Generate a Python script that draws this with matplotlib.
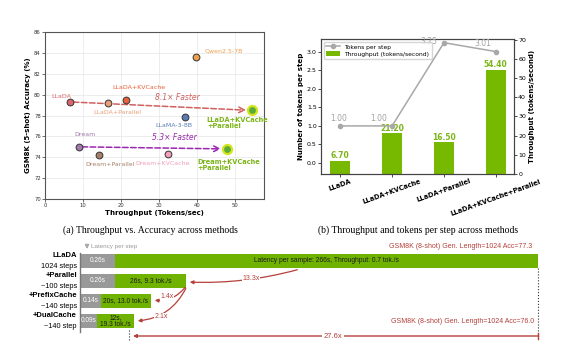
import numpy as np
import matplotlib
matplotlib.use("Agg")
import matplotlib.pyplot as plt

# ---- panel (a) data : throughput vs accuracy
names_a = ["LLaDA", "LLaDA+Parallel", "LLaDA+KVCache", "Qwen2.5-7B", "LLaMA-3-8B",
           "Dream", "Dream+Parallel", "Dream+KVCache",
           "LLaDA+KVCache\n+Parallel", "Dream+KVCache\n+Parallel"]
thr_a = [6.7, 16.5, 21.2, 39.8, 36.8, 9.0, 14.1, 32.3, 54.4, 47.8]
acc_a = [79.3, 79.2, 79.5, 83.6, 77.9, 75.0, 74.2, 74.3, 78.5, 74.8]
colors_a = ["#d9666f", "#e8a07a", "#e9603a", "#f0a04b", "#5a7bb5",
            "#a07aa8", "#a8806a", "#f0a0b8", "#5aab3a", "#5aab3a"]
speedups = ["8.1× Faster", "5.3× Faster"]

# ---- panel (b) data
methods_b = ["LLaDA", "LLaDA+KVCache", "LLaDA+Parallel", "LLaDA+KVCache+Parallel"]
tokens_per_step = [1.00, 1.00, 3.25, 3.01]
throughput_b = [6.70, 21.20, 16.50, 54.40]

# ---- panel (c) data
methods_c = ["LLaDA", "+Parallel", "+PrefixCache", "+DualCache"]
steps_c = ["1024 steps", "~100 steps", "~140 steps", "~140 step"]
step_lat = ["0.26s", "0.26s", "0.14s", "0.09s"]
sample_txt = ["Latency per sample: 266s, Throughput: 0.7 tok./s", "26s, 9.3 tok./s",
              "20s, 13.0 tok./s", "12s,\n19.3 tok./s"]
gray_len = [35, 35, 21, 17]
green_len = [423, 71, 50, 37]
ratios = ["13.3x", "1.4x", "2.1x", "27.6x"]

W, H = 562, 356
fig = plt.figure(figsize=(W/100, H/100), dpi=100)

def box(l, t, r, b):
    return [l/W, 1-b/H, (r-l)/W, (b-t)/H]

# ================= (a)
ax1 = fig.add_axes(box(45, 32, 264, 199))
ax1.grid(True, color="#e6e6e6", lw=0.5)
ax1.set_axisbelow(True)
for i in range(8):
    ax1.scatter(thr_a[i], acc_a[i], s=24, color=colors_a[i], edgecolor="#333333", lw=0.7, zorder=3)
for i in (8, 9):
    ax1.scatter(thr_a[i], acc_a[i], s=42, color=colors_a[i], edgecolor="#d4e41c", lw=1.6, zorder=3)

ax1.annotate("", xy=(thr_a[8]-0.8, acc_a[8]), xytext=(thr_a[0], acc_a[0]),
             arrowprops=dict(arrowstyle="->", color="#d0605e", lw=1.1, ls="--"), zorder=2)
ax1.annotate("", xy=(thr_a[9]-0.8, acc_a[9]), xytext=(thr_a[5], acc_a[5]),
             arrowprops=dict(arrowstyle="->", color="#9b27b0", lw=1.1, ls="--"), zorder=2)
ax1.text(34.7, 79.7, speedups[0], color="#d0605e", style="italic", fontsize=5.5, ha="center", va="center")
ax1.text(34.0, 75.9, speedups[1], color="#9b27b0", style="italic", fontsize=5.5, ha="center", va="center")

offs = [(-9, 5), (10, -10), (13, 12), (27, 6), (-11, -9), (6, 12), (11, -9), (-5, -9)]
for i in range(8):
    ax1.annotate(names_a[i], (thr_a[i], acc_a[i]), xytext=offs[i], textcoords="offset pixels",
                 color=colors_a[i], fontsize=4.5, ha="center", va="center")
ax1.annotate(names_a[8], (thr_a[8], acc_a[8]), xytext=(-45, -13), textcoords="offset pixels",
             color="#7cb518", fontsize=4.8, fontweight="bold", ha="left", va="center", linespacing=1.0)
ax1.annotate(names_a[9], (thr_a[9], acc_a[9]), xytext=(-29, -16), textcoords="offset pixels",
             color="#7cb518", fontsize=4.8, fontweight="bold", ha="left", va="center", linespacing=1.0)

ax1.set_xlim(0, 57.6)
ax1.set_ylim(70, 86)
ax1.set_xticks(range(0, 60, 10))
ax1.set_yticks(range(70, 87, 2))
ax1.tick_params(labelsize=3.8, length=2, width=0.5, pad=1, colors="#333333")
ax1.set_xlabel("Throughput (Tokens/sec)", fontsize=5, fontweight="bold", labelpad=1)
ax1.set_ylabel("GSM8K (5-shot) Accuracy (%)", fontsize=5, fontweight="bold", labelpad=2)
for s in ax1.spines.values():
    s.set_color("#555555"); s.set_linewidth(0.8)

# ================= (b)
ax2 = fig.add_axes(box(321, 39, 514, 174))
ax2r = ax2.twinx()
x = np.arange(len(methods_b))
bars = ax2r.bar(x, throughput_b, width=0.38, color="#76b900", label="Throughput (tokens/second)")
for xi, v in zip(x, throughput_b):
    ax2r.text(xi, v + 0.4, f"{v:.2f}", color="#7cb518", fontsize=5.5, fontweight="bold",
              ha="center", va="bottom")
ln, = ax2.plot(x, tokens_per_step, color="#a8a8a8", marker="o", ms=3, lw=1.1, label="Tokens per step")
toffs = [(-2, 7), (-13, 7), (-15, 1), (-13, 8)]
for xi, v, o in zip(x, tokens_per_step, toffs):
    ax2.annotate(f"{v:.2f}", (xi, v), xytext=(o[0], o[1]), textcoords="offset pixels",
                 color="#a0a0a0", fontsize=5.5, ha="center", va="center")
ax2.set_zorder(ax2r.get_zorder() + 1)
ax2.patch.set_visible(False)
ax2.set_xlim(-0.37, 3.35)
ax2.set_ylim(-0.3, 3.35)
ax2r.set_ylim(0, 70.3)
ax2.set_yticks(np.arange(0, 3.01, 0.5))
ax2r.set_yticks(range(0, 71, 10))
ax2.set_xticks(x)
ax2.set_xticklabels(methods_b, rotation=20, ha="center", fontsize=4.8, fontweight="bold")
ax2.tick_params(axis="y", labelsize=4.5, length=2, width=0.5, pad=1)
ax2.tick_params(axis="x", length=2, width=0.5, pad=1)
ax2r.tick_params(labelsize=4.5, length=2, width=0.5, pad=1)
ax2.set_ylabel("Number of tokens per step", fontsize=5, fontweight="bold", labelpad=2)
ax2r.set_ylabel("Throughput (tokens/second)", fontsize=5, fontweight="bold", labelpad=2)
ax2.legend([ln, bars], ["Tokens per step", "Throughput (tokens/second)"], loc="upper left",
           fontsize=4.3, frameon=True, borderpad=0.4, handlelength=2.2, labelspacing=0.3)
for a in (ax2, ax2r):
    for s in a.spines.values():
        s.set_color("#444444"); s.set_linewidth(0.8)

# captions
fig.text(150/W, 1-230/H, "(a) Throughput vs. Accuracy across methods", family="Liberation Serif",
         fontsize=7, ha="center", va="center")
fig.text(418/W, 1-230/H, "(b) Throughput and tokens per step across methods", family="Liberation Serif",
         fontsize=7, ha="center", va="center")

# ================= (c)
ax3 = fig.add_axes(box(0, 237, W, H))
ax3.set_xlim(-80, W-80)
ax3.set_ylim(4.75, -1.2)
ax3.axis("off")
rows = np.arange(len(methods_c))
ax3.barh(rows, gray_len, height=0.72, color="#999999")
ax3.barh(rows, green_len, left=gray_len, height=0.72, color="#6fb300")
ax3.plot([0, 0], [-0.4, 3.55], color="#777777", lw=1.0)
red = "#b5403a"
for r in rows:
    ax3.text(-3, r - 0.27, methods_c[r], fontsize=5.5, fontweight="bold", ha="right", va="center",
             family="Liberation Sans")
    ax3.text(-3, r + 0.27, steps_c[r], fontsize=5.3, ha="right", va="center", family="Liberation Sans")
    ax3.text(gray_len[r] / 2, r, step_lat[r], color="white", fontsize=4.7, ha="center", va="center",
             family="Liberation Sans")
    ax3.text(gray_len[r] + green_len[r] / 2, r, sample_txt[r], color="#1a1a1a", fontsize=4.8,
             ha="center", va="center", linespacing=0.95, family="Liberation Sans")

# latency per step marker
ax3.annotate("", xy=(7, -0.45), xytext=(7, -0.95),
             arrowprops=dict(arrowstyle="-|>", color="#aaaaaa", lw=1.2, mutation_scale=5))
ax3.text(11, -0.72, "Latency per step", color="#999999", fontsize=4.5, va="center", family="Liberation Sans")

# right accuracy notes
end0 = gray_len[0] + green_len[0]
ax3.text(end0 - 6, -0.72, "GSM8K (8-shot) Gen. Length=1024 Acc=77.3", color=red, fontsize=5,
         ha="right", va="center", family="Liberation Sans")
ax3.text(end0 - 4, 3.02, "GSM8K (8-shot) Gen. Length=1024 Acc=76.0", color=red, fontsize=5,
         ha="right", va="center", family="Liberation Sans")
end3 = gray_len[3] + green_len[3]
ax3.plot([end0, end0], [0.36, 3.85], color="#333333", lw=0.8, ls=":")
ax3.plot([end3 - 5, end3 - 5], [3.45, 3.97], color="#333333", lw=0.8, ls=":")

# speedup arrows
end1 = gray_len[1] + green_len[1]
end2 = gray_len[2] + green_len[2]
ax3.annotate("", xy=(end1 + 1, 1.05), xytext=(220, 0.4),
             arrowprops=dict(arrowstyle="-|>", color=red, lw=0.9, mutation_scale=5,
                             connectionstyle="arc3,rad=-0.08"))
ax3.text(171, 0.88, ratios[0], color=red, fontsize=5, ha="center", va="center",
         bbox=dict(fc="white", ec="none", pad=0.5), family="Liberation Sans")
ax3.annotate("", xy=(end2 + 1, 1.95), xytext=(end1 + 1, 1.2),
             arrowprops=dict(arrowstyle="-|>", color=red, lw=0.9, mutation_scale=5,
                             connectionstyle="arc3,rad=-0.3"))
ax3.text(87, 1.8, ratios[1], color=red, fontsize=5, ha="center", va="center",
         bbox=dict(fc="white", ec="none", pad=0.5), family="Liberation Sans")
ax3.annotate("", xy=(end3 + 1, 3.0), xytext=(end1 + 1, 1.25),
             arrowprops=dict(arrowstyle="-|>", color=red, lw=0.9, mutation_scale=5,
                             connectionstyle="arc3,rad=-0.3"))
ax3.text(81, 2.8, ratios[2], color=red, fontsize=5, ha="center", va="center",
         bbox=dict(fc="white", ec="none", pad=0.5), family="Liberation Sans")
ax3.annotate("", xy=(end3 - 1, 3.75), xytext=(end0, 3.75),
             arrowprops=dict(arrowstyle="-|>", color=red, lw=1.0, mutation_scale=5, shrinkA=0, shrinkB=0))
ax3.plot([end0, end0], [3.6, 3.9], color=red, lw=1.0)
ax3.text(253, 3.75, ratios[3], color=red, fontsize=5.5, ha="center", va="center",
         bbox=dict(fc="white", ec="none", pad=1.5), family="Liberation Sans")

fig.savefig("out.png", dpi=100)
